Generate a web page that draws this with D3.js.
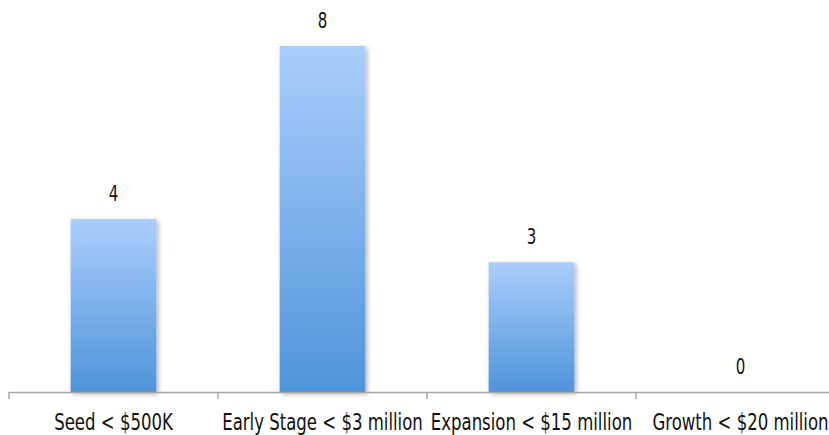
<!DOCTYPE html>
<html>
<head>
<meta charset="utf-8">
<script src="https://cdn.jsdelivr.net/npm/d3@7"></script>
<style>
    body { margin: 0; background: #fff; }
    text { font-family: "DejaVu Sans Condensed", "DejaVu Sans", sans-serif; fill: #111; }
</style>
</head>
<body>
<svg id="chart"></svg>
<script>
var categories = ["Seed < $500K", "Early Stage < $3 million", "Expansion < $15 million", "Growth < $20 million"];
var values = [4, 8, 3, 0];

var width = 829;
var height = 435;
var svg = d3.select("#chart").attr("width", width).attr("height", height);

var x = d3.scaleBand()
    .domain(categories)
    .range([9, 845])
    .paddingInner(0.59)
    .paddingOuter(0.295);

var y = d3.scaleLinear().domain([0, 8]).range([392, 46]);

var defs = svg.append("defs");
var grad = defs.append("linearGradient")
    .attr("id", "barGrad")
    .attr("x1", 0).attr("y1", 0).attr("x2", 0).attr("y2", 1);
grad.append("stop").attr("offset", "0%").attr("stop-color", "#aacefc");
grad.append("stop").attr("offset", "100%").attr("stop-color", "#4f94da");

var shadow = defs.append("filter").attr("id", "shadow")
    .attr("x", "-20%").attr("y", "-20%").attr("width", "140%").attr("height", "140%");
shadow.append("feDropShadow")
    .attr("dx", 2).attr("dy", 2).attr("stdDeviation", 2.5)
    .attr("flood-color", "#000").attr("flood-opacity", 0.3);

// bars
svg.selectAll("rect.bar")
    .data(values)
    .enter()
    .append("rect")
    .attr("class", "bar")
    .attr("x", (d, i) => x(categories[i]))
    .attr("y", d => y(d))
    .attr("width", x.bandwidth())
    .attr("height", d => y(0) - y(d))
    .attr("fill", "url(#barGrad)")
    .attr("filter", "url(#shadow)");

// value labels (narrow look: squeeze horizontally)
svg.selectAll("text.val")
    .data(values)
    .enter()
    .append("text")
    .attr("class", "val")
    .attr("transform", (d, i) => "translate(" + (x(categories[i]) + x.bandwidth() / 2) + "," + (y(d) - 18) + ") scale(0.76,1)")
    .attr("text-anchor", "middle")
    .style("font-size", "22px")
    .text(d => d);

// axis line and ticks
var bounds = [9].concat(categories.map(c => x(c) + x.bandwidth() + x.step() * 0.295));
svg.append("line")
    .attr("x1", 9).attr("x2", width)
    .attr("y1", y(0) + 0.5).attr("y2", y(0) + 0.5)
    .attr("stroke", "#a6a6a6").attr("stroke-width", 1.5);

svg.selectAll("line.tick")
    .data(bounds)
    .enter()
    .append("line")
    .attr("class", "tick")
    .attr("x1", d => d).attr("x2", d => d)
    .attr("y1", y(0)).attr("y2", y(0) + 7)
    .attr("stroke", "#a6a6a6").attr("stroke-width", 1.5);

// category labels
svg.selectAll("text.cat")
    .data(categories)
    .enter()
    .append("text")
    .attr("class", "cat")
    .attr("transform", d => "translate(" + (x(d) + x.bandwidth() / 2) + ",430) scale(0.8,1)")
    .attr("text-anchor", "middle")
    .style("font-size", "23px")
    .text(d => d);
</script>
</body>
</html>
